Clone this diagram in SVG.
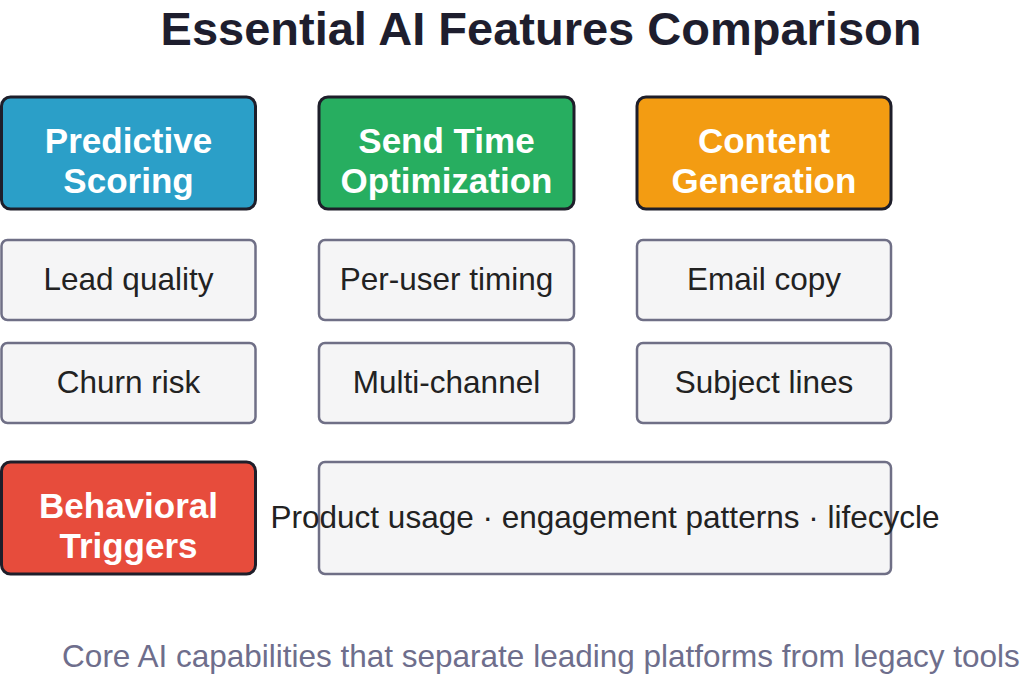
<svg xmlns="http://www.w3.org/2000/svg" width="1024" height="674" viewBox="0 0 1024 674">
<style>
.h{stroke:#1e1e2a;stroke-width:3}
.c{fill:#f5f5f6;stroke:#6f6f86;stroke-width:2.5}
.ht{font-family:"Liberation Sans",Arial,sans-serif;font-weight:bold;font-size:35px;fill:#fff;text-anchor:middle}
.ct{font-family:"Liberation Sans",Arial,sans-serif;font-size:31.5px;fill:#222;text-anchor:middle}
</style>
<rect width="1024" height="674" fill="#fff"/>
<text x="541" y="45" font-family="Liberation Sans,Arial,sans-serif" font-weight="bold" font-size="47" fill="#1e1e2e" text-anchor="middle">Essential AI Features Comparison</text>
<g id="predictive"><rect class="h" x="1.5" y="97" width="254" height="112" rx="9" fill="#2b9fc8"/><text class="ht" x="128.5" y="153">Predictive</text><text class="ht" x="128.5" y="193">Scoring</text></g>
<g id="sendtime"><rect class="h" x="319" y="97" width="255" height="112" rx="9" fill="#27ae60"/><text class="ht" x="446.5" y="153">Send Time</text><text class="ht" x="446.5" y="193">Optimization</text></g>
<g id="content"><rect class="h" x="637" y="97" width="254" height="112" rx="9" fill="#f39c12"/><text class="ht" x="764" y="153">Content</text><text class="ht" x="764" y="193">Generation</text></g>
<g id="behavioral"><rect class="h" x="1.5" y="462" width="254" height="112" rx="9" fill="#e74c3c"/><text class="ht" x="128.5" y="518">Behavioral</text><text class="ht" x="128.5" y="558">Triggers</text></g>
<g id="lead"><rect class="c" x="1.5" y="240" width="254" height="80" rx="6"/><text class="ct" x="128.5" y="290">Lead quality</text></g>
<g id="churn"><rect class="c" x="1.5" y="343" width="254" height="80" rx="6"/><text class="ct" x="128.5" y="393">Churn risk</text></g>
<g id="peruser"><rect class="c" x="319" y="240" width="255" height="80" rx="6"/><text class="ct" x="446.5" y="290">Per-user timing</text></g>
<g id="multi"><rect class="c" x="319" y="343" width="255" height="80" rx="6"/><text class="ct" x="446.5" y="393">Multi-channel</text></g>
<g id="email"><rect class="c" x="637" y="240" width="254" height="80" rx="6"/><text class="ct" x="764" y="290">Email copy</text></g>
<g id="subject"><rect class="c" x="637" y="343" width="254" height="80" rx="6"/><text class="ct" x="764" y="393">Subject lines</text></g>
<g id="usage"><rect class="c" x="319" y="462" width="572" height="112" rx="6"/><text class="ct" x="605" y="528">Product usage · engagement patterns · lifecycle</text></g>
<g id="connectors"/>
<text x="541" y="667" font-family="Liberation Sans,Arial,sans-serif" font-size="31.5" fill="#6e6e8c" text-anchor="middle">Core AI capabilities that separate leading platforms from legacy tools</text>
</svg>
